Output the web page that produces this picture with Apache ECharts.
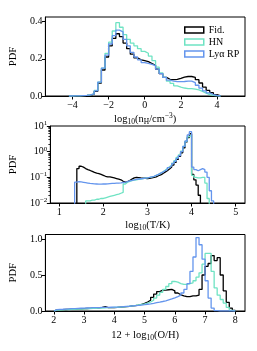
<!DOCTYPE html>
<html><head><meta charset="utf-8">
<script src="https://cdn.jsdelivr.net/npm/echarts@6/dist/echarts.min.js"></script>
<style>html,body{margin:0;padding:0;background:#fff}#c{width:257px;height:351px}</style>
</head><body><div id="c"></div>
<script>
const seriesNames = ['Fid.', 'HN', 'Ly\u03b1 RP'];
const colors = ['#000000', '#6fe3c3', '#6495ed'];

// Panel 1: log10(nH/cm^-3), bins start / width
const nhStart = -4.2, nhWidth = 0.2;
const nhFid = [0.000,0.001,0.001,0.002,0.003,0.005,0.010,0.025,0.070,0.140,0.210,0.270,0.310,0.335,0.320,0.285,0.255,0.225,0.205,0.195,0.190,0.185,0.175,0.165,0.145,0.120,0.100,0.090,0.088,0.090,0.095,0.102,0.105,0.105,0.100,0.088,0.070,0.048,0.030,0.018,0.007,0.001];
const nhHN  = [0.000,0.001,0.001,0.002,0.003,0.006,0.012,0.030,0.075,0.150,0.230,0.290,0.350,0.395,0.370,0.330,0.305,0.285,0.270,0.255,0.240,0.230,0.215,0.190,0.155,0.125,0.100,0.080,0.068,0.055,0.048,0.043,0.040,0.040,0.037,0.033,0.025,0.015,0.008,0.003,0.001,0.000];
const nhLya = [0.000,0.001,0.001,0.002,0.003,0.006,0.011,0.028,0.075,0.150,0.220,0.280,0.325,0.355,0.345,0.305,0.270,0.235,0.210,0.195,0.180,0.175,0.170,0.163,0.145,0.120,0.100,0.085,0.080,0.077,0.077,0.078,0.080,0.080,0.072,0.058,0.042,0.028,0.017,0.008,0.003,0.000];
const nhTicks = [-4, -2, 0, 2, 4];
const nhYTicks = [0, 0.2, 0.4];

// Panel 2: log10(T/K)
const tStart = 1.35, tWidth = 0.05;
const tFid = [0,0.22,0.27,0.25,0.22,0.20,0.185,0.17,0.155,0.145,
  0.14,0.13,0.12,0.11,0.105,0.105,0.10,0.095,0.09,0.085,
  0.08,0.07,0.065,0.068,0.075,0.085,0.095,0.10,0.098,0.095,
  0.093,0.092,0.09,0.092,0.095,0.10,0.105,0.115,0.125,0.14,
  0.16,0.18,0.21,0.25,0.30,0.38,0.50,0.65,0.90,1.40,
  2.40,3.50,5.00,0.13,0.08,0.05,0.02,0,0,0,
  0,0,0,0];
const tHN = [0,0,0,0,0,0.012,0.012,0.013,0.013,0.014,
  0.014,0.015,0.015,0.016,0.017,0.018,0.019,0.02,0.021,0.022,
  0.024,0.026,0.055,0.065,0.07,0.075,0.078,0.08,0.083,0.086,
  0.09,0.093,0.096,0.10,0.105,0.11,0.12,0.13,0.145,0.165,
  0.19,0.22,0.26,0.30,0.36,0.45,0.60,0.75,1.05,1.60,
  2.5,3.8,4.5,0.12,0.10,0.095,0.095,0.10,0.10,0.06,
  0.015,0,0,0];
const tLya = [0.065,0.068,0.066,0.064,0.062,0.06,0.058,0.057,0.056,0.055,
  0.054,0.054,0.055,0.055,0.056,0.057,0.058,0.058,0.059,0.06,
  0.061,0.063,0.065,0.068,0.072,0.076,0.08,0.083,0.086,0.088,
  0.09,0.093,0.096,0.10,0.105,0.11,0.12,0.13,0.145,0.16,
  0.18,0.20,0.24,0.28,0.34,0.42,0.55,0.70,1.0,1.6,
  2.6,4.5,6.0,0.25,0.20,0.18,0.20,0.22,0.20,0.16,
  0.10,0.03,0.012,0];
const tTicks = [1, 2, 3, 4, 5];
const tMinorTicks = [0.02,0.03,0.04,0.05,0.06,0.07,0.08,0.09,0.2,0.3,0.4,0.5,0.6,0.7,0.8,0.9,2,3,4,5,6,7,8,9];

// Panel 3: 12 + log10(O/H)
const ohStart = 2.0, ohWidth = 0.1;
const ohFid = [0.015,0.017,0.019,0.021,0.023,0.025,0.027,0.029,0.031,0.033,
  0.035,0.037,0.039,0.041,0.044,0.05,0.062,0.048,0.047,0.048,
  0.05,0.053,0.056,0.06,0.064,0.07,0.076,0.083,0.092,0.105,
  0.125,0.15,0.19,0.235,0.27,0.29,0.29,0.295,0.30,0.28,
  0.25,0.225,0.21,0.20,0.20,0.21,0.21,0.22,0.30,0.50,
  0.62,0.66,0.77,0.70,0.74,0.50,0.28,0.12,0.04,0.008];
const ohHN = [0.012,0.014,0.016,0.018,0.02,0.022,0.024,0.026,0.028,0.03,
  0.032,0.034,0.036,0.038,0.04,0.042,0.044,0.046,0.048,0.05,
  0.052,0.055,0.058,0.062,0.066,0.071,0.077,0.084,0.092,0.10,
  0.11,0.125,0.15,0.18,0.22,0.26,0.30,0.34,0.38,0.41,
  0.40,0.38,0.37,0.37,0.38,0.39,0.42,0.47,0.53,0.65,
  0.80,0.80,0.55,0.32,0.22,0.16,0.11,0.05,0.01,0.002];
const ohLya = [0.02,0.022,0.024,0.027,0.03,0.032,0.034,0.036,0.038,0.04,
  0.042,0.044,0.046,0.047,0.048,0.049,0.05,0.051,0.052,0.053,
  0.055,0.057,0.06,0.063,0.066,0.07,0.074,0.078,0.083,0.088,
  0.094,0.10,0.107,0.115,0.123,0.132,0.142,0.155,0.168,0.183,
  0.20,0.22,0.25,0.30,0.38,0.55,0.75,1.02,0.92,0.72,
  0.42,0.18,0.04,0.005,0,0,0,0,0,0];
const ohTicks = [2, 3, 4, 5, 6, 7, 8];
const ohYTicks = [0, 0.5, 1.0];

const FONT = 'Liberation Serif';

function steps(start, width, vals, base) {
  const pts = [[start, base]];
  vals.forEach((v, i) => pts.push([start + i * width, v > 0 ? v : base]));
  pts.push([start + vals.length * width, base]);
  return pts;
}
const minus = v => String(v).replace('-', '\u2212');

const grids = [
  {left: 39, top: 17, width: 206, height: 79},
  {left: 39, top: 126, width: 206, height: 77},
  {left: 39, top: 234.5, width: 206, height: 76.5}
].map(g => Object.assign(g, {show: true, borderColor: '#000', borderWidth: 1, backgroundColor: 'transparent'}));

const nameRich = {
  t: {fontFamily: FONT, fontSize: 10.5, color: '#000'},
  s: {fontFamily: FONT, fontSize: 7.5, color: '#000', padding: [6, 0, 0, 0]},
  p: {fontFamily: FONT, fontSize: 7.5, color: '#000', padding: [0, 0, 6, 0]}
};

function xAxis(gi, min, max, ticks, name, gap) {
  return {
    type: 'value', gridIndex: gi, min, max, name, nameLocation: 'middle', nameGap: gap,
    nameTextStyle: {fontFamily: FONT, fontSize: 10.5, color: '#000', rich: nameRich},
    axisLine: {show: true, onZero: false, lineStyle: {color: '#000', width: 1}},
    axisTick: {show: true, length: 3.5, customValues: ticks, lineStyle: {color: '#000', width: 1}},
    axisLabel: {customValues: ticks, formatter: v => minus(v), fontFamily: FONT, fontSize: 10, color: '#000', margin: 4},
    splitLine: {show: false}
  };
}
function yAxisLin(gi, min, max, ticks, gap) {
  return {
    type: 'value', gridIndex: gi, min, max, name: 'PDF', nameLocation: 'middle', nameGap: gap,
    nameTextStyle: {fontFamily: FONT, fontSize: 10.5, color: '#000'},
    axisLine: {show: true, onZero: false, lineStyle: {color: '#000', width: 1}},
    axisTick: {show: true, length: 3.5, customValues: ticks, lineStyle: {color: '#000', width: 1}},
    axisLabel: {customValues: ticks, formatter: v => v.toFixed(1), fontFamily: FONT, fontSize: 10, color: '#000', margin: 3},
    splitLine: {show: false}
  };
}

const option = {
  animation: false,
  backgroundColor: '#fff',
  grid: grids,
  legend: {
    orient: 'vertical', left: 179, top: 20, itemWidth: 19, itemHeight: 6, itemGap: 2,
    textStyle: {fontFamily: FONT, fontSize: 10, color: '#000'},
    data: seriesNames.map((n, i) => ({name: n, icon: 'rect',
      itemStyle: {color: 'rgba(0,0,0,0)', borderColor: colors[i], borderWidth: 1.5}}))
  },
  xAxis: [
    xAxis(0, -5.5, 5.55, nhTicks, '{t|log}{s|10}{t|(n}{s|H}{t|/cm}{p|\u22123}{t|)}', 16),
    xAxis(1, 0.8, 5.21, tTicks, '{t|log}{s|10}{t|(T/K)}', 15),
    xAxis(2, 1.72, 8.32, ohTicks, '{t|12 + log}{s|10}{t|(O/H)}', 17)
  ],
  yAxis: [
    yAxisLin(0, 0, 0.4253, nhYTicks, 23),
    {
      type: 'log', gridIndex: 1, min: 0.01, max: 10, logBase: 10,
      name: 'PDF', nameLocation: 'middle', nameGap: 28,
      nameTextStyle: {fontFamily: FONT, fontSize: 10.5, color: '#000'},
      axisLine: {show: true, onZero: false, lineStyle: {color: '#000', width: 1}},
      axisTick: {show: true, length: 3.5, lineStyle: {color: '#000', width: 1}},
      axisLabel: {
        fontFamily: FONT, fontSize: 10, color: '#000', margin: 3,
        formatter: v => '{b|10}{e|' + minus(Math.round(Math.log10(v))) + '}',
        rich: {
          b: {fontFamily: FONT, fontSize: 10, color: '#000'},
          e: {fontFamily: FONT, fontSize: 7, color: '#000', padding: [0, 0, 6, 0]}
        }
      },
      splitLine: {show: false}
    },
    yAxisLin(2, 0, 1.0625, ohYTicks, 23),
    {
      type: 'value', gridIndex: 1, min: -2, max: 1, position: 'left',
      axisLine: {show: false}, axisLabel: {show: false}, splitLine: {show: false},
      axisTick: {show: true, length: 2, customValues: tMinorTicks.map(v => Math.log10(v)), lineStyle: {color: '#000', width: 0.8}}
    }
  ],
  series: []
};

const panels = [
  {gi: 0, start: nhStart, width: nhWidth, data: [nhFid, nhHN, nhLya], base: 0},
  {gi: 1, start: tStart, width: tWidth, data: [tFid, tHN, tLya], base: 0.001},
  {gi: 2, start: ohStart, width: ohWidth, data: [ohFid, ohHN, ohLya], base: 0}
];
panels.forEach(p => {
  p.data.forEach((vals, i) => {
    option.series.push({
      type: 'line', name: seriesNames[i], xAxisIndex: p.gi, yAxisIndex: p.gi,
      step: 'end', symbol: 'none', clip: true,
      data: steps(p.start, p.width, vals, p.base),
      lineStyle: {color: colors[i], width: 1.3},
      itemStyle: {color: colors[i]},
      z: 2 + i
    });
  });
});

const chart = echarts.init(document.getElementById('c'), null, {renderer: 'canvas'});
chart.setOption(option);
</script>
</body></html>
